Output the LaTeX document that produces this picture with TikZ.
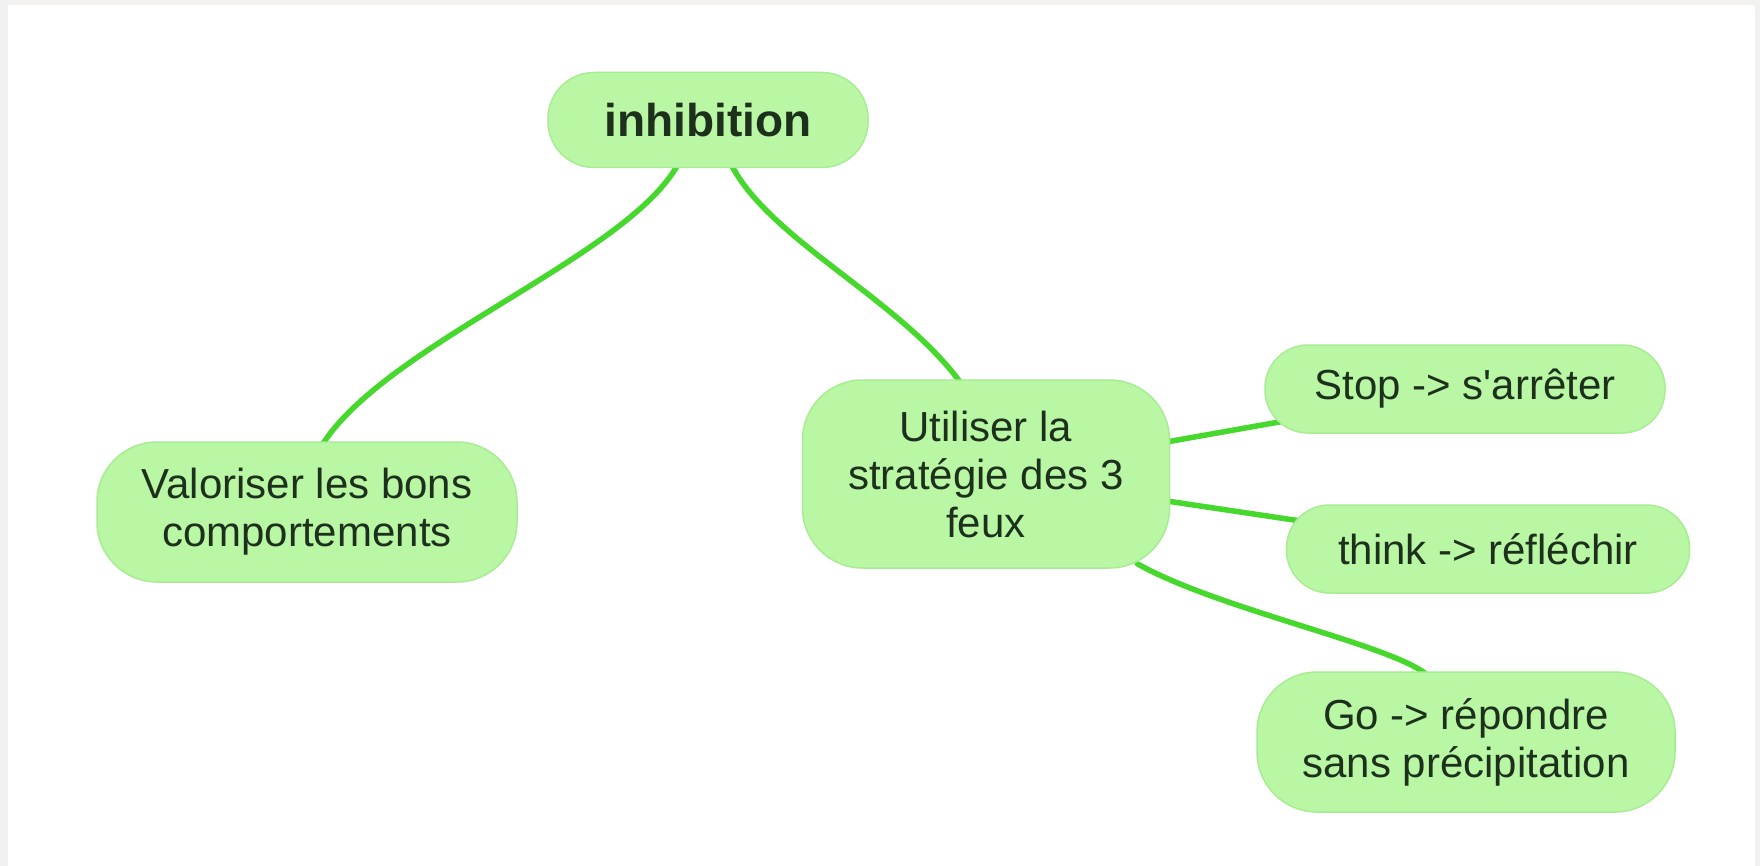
\documentclass[tikz,border=0pt]{standalone}
\usepackage{fontspec}
\setmainfont{Liberation Sans}
\usetikzlibrary{calc,backgrounds}
\definecolor{nodefill}{RGB}{185,247,165}
\definecolor{nodeedge}{RGB}{168,236,148}
\definecolor{linkcol}{RGB}{70,216,44}
\definecolor{txtcol}{RGB}{28,48,28}
\definecolor{framecol}{RGB}{242,241,239}
\begin{document}
\begin{tikzpicture}[x=1pt,y=-1pt,
  mapnode/.style={draw=nodeedge,line width=1.5pt,fill=nodefill,text=txtcol,
    inner sep=0pt,align=center,font=\fontsize{42}{48}\selectfont},
  link/.style={draw=linkcol,line width=5.5pt,line cap=round}]
\useasboundingbox (0,0) rectangle (1760,866);
\node[mapnode,minimum width=320pt,minimum height=95pt,rounded corners=46pt,
  font=\fontsize{46}{52}\selectfont\bfseries] (inh) at (708,120) {inhibition};
\node[mapnode,minimum width=420pt,minimum height=140pt,rounded corners=60pt] (val) at (307,512)
  {Valoriser les bons\\comportements};
\node[mapnode,minimum width=367pt,minimum height=188pt,rounded corners=60pt] (utl) at (986,474)
  {Utiliser la\\strat\'egie des 3\\feux};
\node[mapnode,minimum width=400pt,minimum height=88pt,rounded corners=43pt] (stop) at (1465,389)
  {Stop -> s\textquotesingle arrêter};
\node[mapnode,minimum width=403pt,minimum height=88pt,rounded corners=43pt] (think) at (1488,549)
  {think -> réfléchir};
\node[mapnode,minimum width=418pt,minimum height=140pt,rounded corners=60pt] (go) at (1466,742)
  {Go -> répondre\\sans précipitation};
\begin{pgfonlayer}{background}
\fill[framecol] (0,0) rectangle (1760,866);
\fill[white] (8,5) rectangle (1755,866);
\draw[link] ($(inh.south)+(-30,-4)$) .. controls +(-50,92) and +(63,-101) .. ($(val.north)+(15,4)$);
\draw[link] ($(inh.south)+(23,-4)$) .. controls +(39,76) and +(-61,-84) .. ($(utl.north)+(-25,4)$);
\draw[link] (utl.center) -- (stop.center);
\draw[link] (utl.center) -- (think.center);
\draw[link] ($(utl.south east)+(-33,-5)$) .. controls +(80,45) and +(-40,-30) .. ($(go.north)+(-41,2)$);
\end{pgfonlayer}
\end{tikzpicture}
\end{document}
